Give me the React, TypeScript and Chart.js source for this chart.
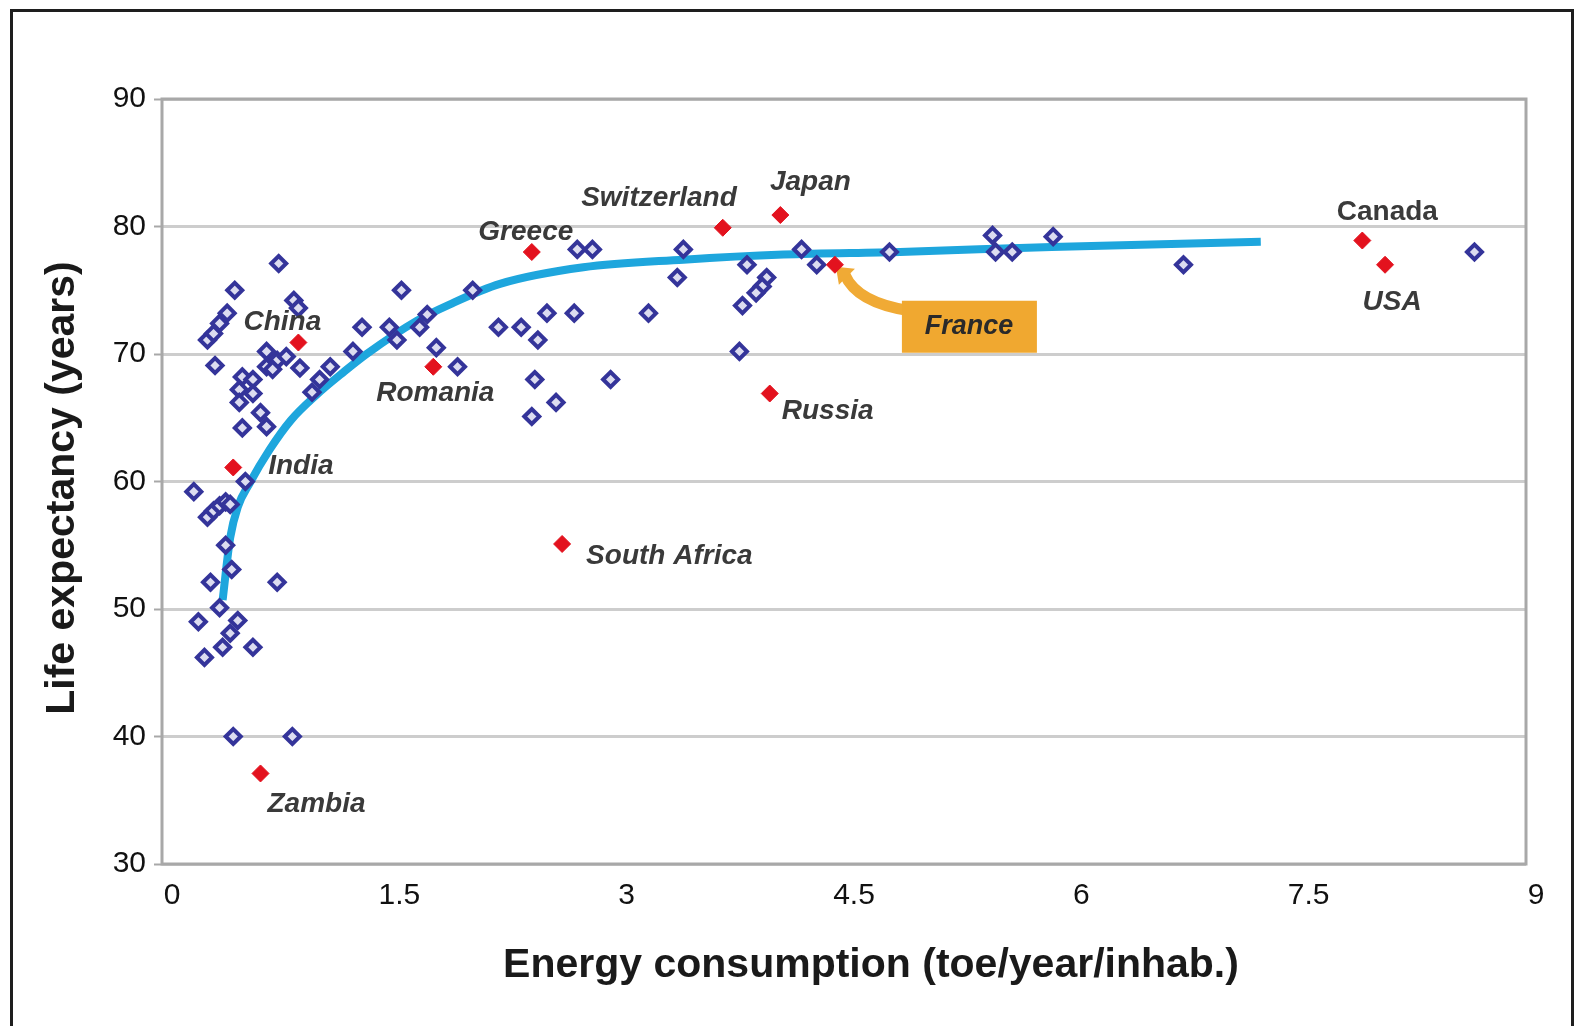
import React, { useEffect, useRef } from "react";
import { Chart, registerables } from "chart.js";
Chart.register(...registerables);

// ---- data ----
const countryX = [0.21, 0.30, 0.34, 0.38, 0.42, 0.45, 0.42, 0.46, 0.32, 0.76, 0.38, 0.24, 0.50, 0.45, 0.40, 0.28, 0.60, 0.47, 0.86, 0.55,
  0.30, 0.34, 0.38, 0.43, 0.48, 0.77, 0.35, 0.87, 0.90, 0.69, 0.76, 0.82, 0.91, 0.69, 0.73, 0.53, 0.60, 0.51, 0.60, 0.51, 0.65, 0.69, 0.53,
  0.99, 1.04, 1.11, 1.26, 1.32, 1.50, 1.55, 1.58, 1.70, 1.75, 1.81, 1.95, 2.05, 2.22, 2.37, 2.48, 2.54, 2.72, 2.46, 2.96, 2.60, 2.44,
  2.74, 2.84, 3.21, 3.44, 3.40, 3.86, 3.99, 3.96, 3.92, 3.83, 3.81, 4.22, 4.32, 4.80, 5.48, 5.50, 5.61, 5.88, 6.74, 8.66];
const countryY = [59.2, 57.2, 57.7, 58.1, 58.4, 58.2, 55.0, 53.1, 52.1, 52.1, 50.1, 49.0, 49.1, 48.1, 47.0, 46.2, 47.0, 40.0, 40.0, 60.0,
  71.1, 71.6, 72.4, 73.2, 75.0, 77.1, 69.1, 74.2, 73.6, 70.2, 69.5, 69.8, 68.9, 69.0, 68.8, 68.2, 68.0, 67.2, 66.9, 66.2, 65.4, 64.3, 64.2,
  67.0, 68.0, 69.0, 70.2, 72.1, 72.1, 71.1, 75.0, 72.1, 73.1, 70.5, 69.0, 75.0, 72.1, 72.1, 71.1, 73.2, 73.2, 68.0, 68.0, 66.2, 65.1,
  78.2, 78.2, 73.2, 78.2, 76.0, 77.0, 76.0, 75.3, 74.8, 73.8, 70.2, 78.2, 77.0, 78.0, 79.3, 78.0, 78.0, 79.2, 77.0, 78.0];

const namedCountries = ["Zambia", "India", "China", "Romania", "Greece", "South Africa", "Switzerland", "Japan", "Russia", "France", "Canada", "USA"];
const namedX = [0.65, 0.47, 0.90, 1.79, 2.44, 2.64, 3.70, 4.08, 4.01, 4.44, 7.92, 8.07];
const namedY = [37.1, 61.1, 70.9, 69.0, 78.0, 55.1, 79.9, 80.9, 66.9, 77.0, 78.9, 77.0];

const trendX = [0.40, 0.45, 0.50, 0.58, 0.71, 0.85, 1.02, 1.20, 1.35, 1.68, 1.90, 2.23, 2.78, 3.44, 4.10, 4.87, 5.87, 7.25];
const trendY = [50.7, 55.6, 58.0, 59.9, 62.5, 64.8, 66.8, 68.6, 70.0, 72.6, 73.9, 75.5, 76.8, 77.4, 77.8, 78.0, 78.4, 78.8];

const xTickValues = [0, 1.5, 3, 4.5, 6, 7.5, 9];
const yTickValues = [30, 40, 50, 60, 70, 80, 90];
const xTitle = "Energy consumption (toe/year/inhab.)";
const yTitle = "Life expectancy (years)";

// label placement (pixel offsets from marker)
const labelPlacement: Record<string, { dx: number; dy: number; align: CanvasTextAlign; upright?: boolean }> = {
  Zambia: { dx: 7, dy: 31, align: "left" },
  India: { dx: 35, dy: -1, align: "left" },
  China: { dx: -16, dy: -20, align: "center" },
  Romania: { dx: 2, dy: 27, align: "center" },
  Greece: { dx: -6, dy: -20, align: "center" },
  "South Africa": { dx: 24, dy: 12, align: "left" },
  Switzerland: { dx: 14, dy: -29, align: "right" },
  Japan: { dx: 30, dy: -33, align: "center" },
  Russia: { dx: 12, dy: 18, align: "left" },
  Canada: { dx: 25, dy: -28, align: "center", upright: true },
  USA: { dx: 7, dy: 38, align: "center" },
};

const FONT = "'Liberation Sans', Arial, sans-serif";

const annotations = {
  id: "annotations",
  beforeDatasetsDraw(chart: any) {
    const { ctx, scales } = chart;
    const i = namedCountries.indexOf("France");
    const px = scales.x.getPixelForValue(namedX[i]);
    const py = scales.y.getPixelForValue(namedY[i]);
    ctx.save();
    ctx.strokeStyle = "#f0aa35";
    ctx.fillStyle = "#f0aa35";
    ctx.lineWidth = 11;
    ctx.lineCap = "butt";
    ctx.beginPath();
    ctx.moveTo(px + 10, py + 10);
    ctx.quadraticCurveTo(px + 22, py + 38, px + 75, py + 46);
    ctx.stroke();
    ctx.beginPath();
    ctx.moveTo(px + 1, py + 2);
    ctx.lineTo(px + 20, py + 4);
    ctx.lineTo(px + 4, py + 20);
    ctx.closePath();
    ctx.fill();
    ctx.fillStyle = "#f0a830";
    ctx.fillRect(px + 67, py + 36, 135, 52);
    ctx.fillStyle = "#2a2a2a";
    ctx.font = `italic bold 27px ${FONT}`;
    ctx.textAlign = "center";
    ctx.textBaseline = "middle";
    ctx.fillText("France", px + 134, py + 62);
    ctx.restore();
  },
  afterDraw(chart: any) {
    const { ctx, scales, chartArea } = chart;
    ctx.save();
    // plot frame
    ctx.strokeStyle = "#a8a8a8";
    ctx.lineWidth = 3;
    ctx.strokeRect(chartArea.left, chartArea.top, chartArea.right - chartArea.left, chartArea.bottom - chartArea.top);
    // country labels
    ctx.fillStyle = "#3a3a3a";
    ctx.textBaseline = "middle";
    namedCountries.forEach((name, i) => {
      const p = labelPlacement[name];
      if (!p) return;
      const px = scales.x.getPixelForValue(namedX[i]);
      const py = scales.y.getPixelForValue(namedY[i]);
      ctx.font = `${p.upright ? "" : "italic "}bold 28px ${FONT}`;
      ctx.textAlign = p.align;
      ctx.fillText(name, px + p.dx, py + p.dy);
    });
    // axis titles
    ctx.fillStyle = "#1a1a1a";
    ctx.font = `bold 41px ${FONT}`;
    ctx.textAlign = "center";
    ctx.fillText(xTitle, 871, 966);
    ctx.translate(63, 488);
    ctx.rotate(-Math.PI / 2);
    ctx.font = `bold 41px ${FONT}`;
    ctx.fillText(yTitle, 0, 0);
    ctx.restore();
  },
};

export default function App() {
  const ref = useRef<HTMLCanvasElement | null>(null);
  useEffect(() => {
    if (!ref.current) return;
    const chart = new Chart(ref.current, {
      type: "scatter",
      data: {
        datasets: [
          {
            label: "Trend",
            data: trendX.map((x, i) => ({ x, y: trendY[i] })),
            showLine: true,
            borderColor: "#1ea6dd",
            backgroundColor: "#1ea6dd",
            borderWidth: 8,
            pointRadius: 0,
            cubicInterpolationMode: "monotone",
            order: 3,
          },
          {
            label: "Countries",
            data: countryX.map((x, i) => ({ x, y: countryY[i] })),
            pointStyle: "rectRot",
            pointRadius: 7.5,
            borderWidth: 4,
            borderColor: "#34349a",
            backgroundColor: "#dcdcf0",
            order: 2,
          },
          {
            label: "Highlighted",
            data: namedX.map((x, i) => ({ x, y: namedY[i] })),
            pointStyle: "rectRot",
            pointRadius: 8.5,
            borderWidth: 1,
            borderColor: "#e3121e",
            backgroundColor: "#e3121e",
            order: 1,
          },
        ],
      },
      options: {
        responsive: false,
        devicePixelRatio: 1,
        animation: false,
        layout: { padding: { left: 0, top: 99, right: 57, bottom: 0 } },
        plugins: { legend: { display: false }, tooltip: { enabled: false } },
        scales: {
          x: {
            type: "linear",
            min: 0,
            max: 9,
            afterFit: (s: any) => { s.height = 162; },
            afterBuildTicks: (s: any) => { s.ticks = xTickValues.map((v) => ({ value: v })); },
            grid: { display: false, drawTicks: false },
            border: { display: false },
            ticks: {
              padding: 14,
              labelOffset: 10,
              color: "#111",
              font: { family: FONT, size: 30 },
              callback: (v: any) => String(v),
            },
          },
          y: {
            type: "linear",
            min: 30,
            max: 90,
            afterFit: (s: any) => { s.width = 162; },
            afterBuildTicks: (s: any) => { s.ticks = yTickValues.map((v) => ({ value: v })); },
            grid: { color: "#cdcdcd", lineWidth: 3, tickLength: 8, tickColor: "#a8a8a8", tickWidth: 2 },
            border: { display: false },
            ticks: {
              padding: 8,
              color: "#111",
              font: { family: FONT, size: 30 },
              callback: (v: any) => String(v),
            },
          },
        },
      },
      plugins: [annotations],
    });
    return () => chart.destroy();
  }, []);
  return (
    <div style={{ position: "fixed", left: 0, top: 0, width: 1583, height: 1026, overflow: "hidden", background: "#fff" }}>
      <canvas ref={ref} width={1583} height={1026} style={{ display: "block" }} />
      <div
        style={{
          position: "absolute",
          left: 10,
          top: 9,
          width: 1558,
          height: 1100,
          border: "3px solid #1e1e1e",
          pointerEvents: "none",
        }}
      />
    </div>
  );
}
